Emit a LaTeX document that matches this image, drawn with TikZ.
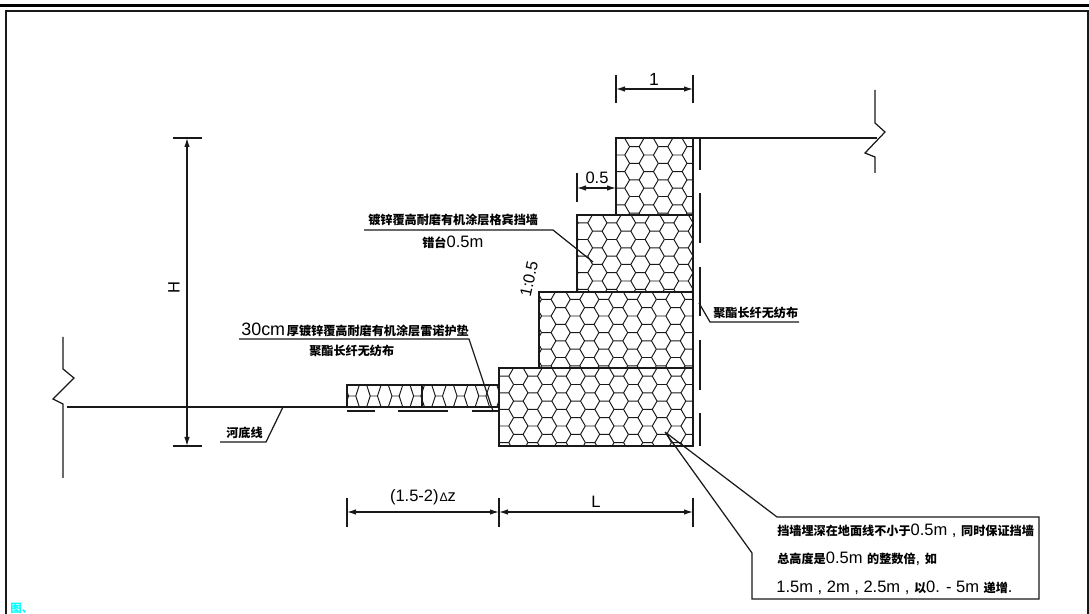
\documentclass[tikz,border=0pt]{standalone}
\usepackage{fontspec}
\usetikzlibrary{arrows.meta}
\setmainfont{Liberation Sans}
\newfontfamily\cjkf{Noto Sans CJK SC}
\definecolor{cadcyan}{rgb}{0,1,1}
\newcommand{\cj}[1]{{\fontsize{6.9pt}{8pt}\cjkf\bfseries #1}}
\newcommand{\hexmesh}[8]{%
  \begin{scope}
    \clip (#1,#2) rectangle (#3,#4);
    \pgfmathsetmacro{\hbx}{#5-(floor((#5-#1)/#7)+1)*#7}
    \pgfmathsetmacro{\hby}{#6-(floor((#6-#2)/#8)+1)*#8}
    \pgfmathtruncatemacro{\hni}{(#3-#1)/(#7/2)+5}
    \pgfmathtruncatemacro{\hnj}{(#4-#2)/(#8/2)+5}
    \pgfmathsetmacro{\hsa}{#7/6}
    \foreach \hi in {0,...,\hni}{
      \foreach \hj in {0,...,\hnj}{
        \pgfmathtruncatemacro{\hpty}{mod(\hi+\hj,2)}
        \ifnum\hpty=0
          \pgfmathsetmacro{\hcx}{\hbx+\hi*#7/2}
          \pgfmathsetmacro{\hcy}{\hby+\hj*#8/2}
          \draw[meshline] (\hcx-\hsa,\hcy) -- (\hcx+\hsa,\hcy) -- (\hcx+2*\hsa,\hcy-#8/2)
                          (\hcx+\hsa,\hcy) -- (\hcx+2*\hsa,\hcy+#8/2);
        \fi
      }
    }
  \end{scope}
}
\tikzset{
  meshline/.style={line width=0.55pt,black!90},
  cadline/.style={line width=0.7pt,black!90},
  fabric/.style={line width=0.75pt,black!90},
  boxline/.style={line width=0.8pt,black!90},
  dimline/.style={line width=0.65pt,black!90,{Latex[length=1.8mm,width=1.1mm]}-{Latex[length=1.8mm,width=1.1mm]}},
  txt/.style={inner sep=0pt,font=\fontsize{9.4pt}{11pt}\selectfont},
}
\begin{document}
\begin{tikzpicture}[x=0.02cm,y=-0.02cm]
\useasboundingbox (0,0) rectangle (1089,614);
% frame
\fill[black] (0,4) rectangle (1089,7);
\draw[line width=1.1pt,black!90] (6,614) -- (6,11) -- (1088,11) -- (1088,614);
% meshes
\hexmesh{616}{138}{693}{215}{620}{155}{28.7}{16.6}
\hexmesh{577}{215}{693}{292}{583}{239.5}{28.7}{16.6}
\hexmesh{539}{292}{693}{368}{575}{316}{28.7}{16.6}
\hexmesh{499}{368}{693}{446}{504}{426}{28.7}{16.6}
\hexmesh{347}{385}{499}{407}{363}{385}{21.7}{22}
% gabion outlines
\draw[boxline] (616,215) -- (616,138) -- (693,138) -- (693,446) -- (499,446) -- (499,368) -- (539,368) -- (539,292) -- (577,292) -- (577,215) -- (693,215);
\draw[boxline] (539,368) -- (693,368) (577,292) -- (693,292);
\draw[boxline] (347,385) rectangle (499,407);
\draw[boxline] (422,385) -- (422,407);
% geotextile
\draw[fabric] (700,138) -- (700,170) (700,193) -- (700,243) (700,267) -- (700,316) (700,340) -- (700,390) (700,413) -- (700,446);
\draw[fabric] (347,411) -- (375,411) (398,411) -- (448,411) (472,411) -- (498,411);
% ground lines
\draw[cadline] (693,138) -- (877,138);
\draw[cadline] (875,90) -- (875,123) -- (885,132) -- (865,153) -- (875,157) -- (875,173);
\draw[cadline] (63,337) -- (63,369) -- (74,378) -- (53,399) -- (63,404) -- (63,478);
\draw[cadline] (67,407) -- (347,407);
% H dimension
\draw[cadline] (173,138) -- (202,138) (173,446) -- (202,446);
\draw[dimline] (187,138) -- (187,446);
\node[txt,rotate=90] (tH) at (174,288) {H};
% dimension 1
\draw[cadline] (616,75) -- (616,103) (693,75) -- (693,103);
\draw[dimline] (616,89) -- (693,89);
\node[txt,font=\fontsize{10pt}{11pt}\selectfont] (t1) at (654,79) {1};
% dimension 0.5
\draw[cadline] (577,173) -- (577,202);
\draw[dimline] (577,188) -- (616,188);
\node[txt,font=\fontsize{9.4pt}{10pt}\selectfont] (t05) at (597,178) {0.5};
% bottom dimensions
\draw[cadline] (347,498) -- (347,527) (499,498) -- (499,527) (693,498) -- (693,527);
\draw[dimline] (347,512) -- (499,512);
\draw[dimline] (499,512) -- (693,512);
\node[txt] (tz) at (423,497) {(1.5-2)\kern0.5pt{\fontsize{7pt}{8pt}\selectfont Δ}z};
\node[txt] (tL) at (596,502) {L};
% slope
\node[txt,rotate=78,font=\fontsize{9.2pt}{10pt}\selectfont] (ts) at (529,279) {1:0.5};
% wall label
\node[txt,anchor=base west] (tw1) at (368,225) {\cj{镀锌覆高耐磨有机涂层格宾挡墙}};
\node[txt,anchor=base west] (tw2) at (422,248) {\cj{错台}0.5m};
\coordinate (wa) at (364,230); \coordinate (wb) at (553,230); \coordinate (wc) at (593,262);
\draw[cadline] (wa) -- (wb) -- (wc);
% mat label
\node[txt,anchor=base west,font=\fontsize{10.2pt}{12pt}\selectfont] (tm1) at (241,336) {30cm\kern1pt\cj{厚镀锌覆高耐磨有机涂层雷诺护垫}};
\node[txt,anchor=base west] (tm2) at (309,356) {\cj{聚酯长纤无纺布}};
\coordinate (ma) at (239,339); \coordinate (mb) at (469,339); \coordinate (mc) at (493,411);
\draw[cadline] (ma) -- (mb) -- (mc);
% river label
\node[txt,anchor=base west] (tr) at (226,438) {\cj{河底线}};
\coordinate (ra) at (220,442); \coordinate (rb) at (266,442); \coordinate (rc) at (283,407);
\draw[cadline] (ra) -- (rb) -- (rc);
% fabric label
\node[txt,anchor=base west] (tf) at (713,318) {\cj{聚酯长纤无纺布}};
\coordinate (fa) at (699,303); \coordinate (fb) at (710,322); \coordinate (fc) at (799,322);
\draw[cadline] (fa) -- (fb) -- (fc);
% callout
\coordinate (ca) at (665,432);
\draw[cadline] (ca) -- (777,517) -- (1039,517) -- (1039,599) -- (752,599) -- (752,553) -- (ca);
\node[txt,anchor=base west] (c1) at (777,536) {\cj{挡墙埋深在地面线不小于}0.5m , \cj{同时保证挡墙}};
\node[txt,anchor=base west] (c2) at (777,564) {\cj{总高度是}0.5m \cj{的整数倍}, \cj{如}};
\node[txt,anchor=base west] (c3) at (776,593) {1.5m , 2m , 2.5m , \cj{以}0. - 5m \cj{递增}.};
% corner text
\node[inner sep=0pt,anchor=base west,text=cadcyan] (tc) at (10,613) {\fontsize{6.5pt}{7pt}\cjkf\bfseries 图、};
\end{tikzpicture}
\end{document}
